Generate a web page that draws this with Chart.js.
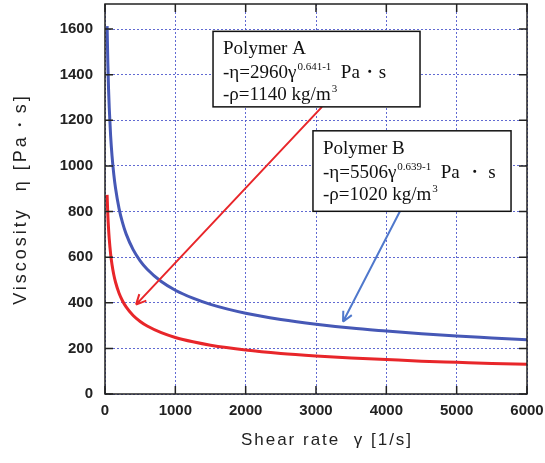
<!DOCTYPE html>
<html>
<head>
<meta charset="utf-8">
<script src="https://cdn.jsdelivr.net/npm/chart.js@4.4.1/dist/chart.umd.min.js"></script>
<style>
html,body{margin:0;padding:0;background:#fff;}
#wrap{width:545px;height:463px;position:relative;}
</style>
</head>
<body>
<div id="wrap"><canvas id="c" width="545" height="463"></canvas></div>
<script>
// ---- data ----
const gamma = [30,40,50,60,80,100,125,150,200,250,300,400,500,600,800,1000,1250,1500,2000,2500,3000,3500,4000,4500,5000,5500,6000];
const etaB  = [1613,1454,1341,1256,1132,1044,963,902,813,750,702,633,584,547,493,455,420,393,354,327,306,289,276,264,254,246,238];
const etaA  = [873,787,727,681,614,567,523,490,442,408,382,344,318,298,269,248,229,214,193,178,167,158,151,144,139,134,130];
const xTicks = [0,1000,2000,3000,4000,5000,6000];
const yTicks = [0,200,400,600,800,1000,1200,1400,1600];
const xTitle = 'Shear rate  γ [1/s]';
const yTitle = 'Viscosity  η [Pa・s]';
const noteA = ['Polymer A', ['-η=2960γ', '0.641-1', '  Pa・s'], ['-ρ=1140 kg/m', '3', '']];
const noteB = ['Polymer B', ['-η=5506γ', '0.639-1', '  Pa ・ s'], ['-ρ=1020 kg/m', '3', '']];

// ---- annotation layout (data coordinates) ----
const boxA = {x0:1536, y0:1590, x1:4479, y1:1259};
const boxB = {x0:2957, y0:1154, x1:5773, y1:801};
const arrowA = {x0:3085, y0:1259, x1:441, y1:392, color:'#e8262a'};
const arrowB = {x0:4194, y0:801, x1:3384, y1:317, color:'#4f78cc'};

const frame = {
  id:'frame',
  afterDatasetsDraw(chart){
    const {ctx, chartArea:a, scales:{x,y}} = chart;
    ctx.save();
    ctx.strokeStyle = '#222';
    ctx.lineWidth = 1.5;
    ctx.strokeRect(a.left, a.top, a.right-a.left, a.bottom-a.top);
    ctx.beginPath();
    const L = 8;
    xTicks.forEach(v=>{
      const px = x.getPixelForValue(v);
      ctx.moveTo(px, a.bottom); ctx.lineTo(px, a.bottom-L);
      ctx.moveTo(px, a.top); ctx.lineTo(px, a.top+L);
    });
    yTicks.forEach(v=>{
      const py = y.getPixelForValue(v);
      ctx.moveTo(a.left, py); ctx.lineTo(a.left+L, py);
      ctx.moveTo(a.right, py); ctx.lineTo(a.right-L, py);
    });
    ctx.stroke();
    ctx.restore();
  }
};

function drawArrow(ctx, x, y, ar){
  const sx = x.getPixelForValue(ar.x0), sy = y.getPixelForValue(ar.y0);
  const ex = x.getPixelForValue(ar.x1), ey = y.getPixelForValue(ar.y1);
  ctx.save();
  ctx.strokeStyle = ar.color;
  ctx.lineWidth = 2;
  ctx.beginPath();
  ctx.moveTo(sx, sy); ctx.lineTo(ex, ey);
  const ang = Math.atan2(ey-sy, ex-sx);
  const h = 11, w = 0.45;
  ctx.moveTo(ex, ey); ctx.lineTo(ex - h*Math.cos(ang-w), ey - h*Math.sin(ang-w));
  ctx.moveTo(ex, ey); ctx.lineTo(ex - h*Math.cos(ang+w), ey - h*Math.sin(ang+w));
  ctx.stroke();
  ctx.restore();
}

function drawBox(ctx, x, y, b, note){
  const l = x.getPixelForValue(b.x0), t = y.getPixelForValue(b.y0);
  const r = x.getPixelForValue(b.x1), bt = y.getPixelForValue(b.y1);
  ctx.save();
  ctx.fillStyle = '#fff';
  ctx.fillRect(l, t, r-l, bt-t);
  ctx.strokeStyle = '#111';
  ctx.lineWidth = 1.5;
  ctx.strokeRect(l, t, r-l, bt-t);
  ctx.fillStyle = '#111';
  ctx.textBaseline = 'alphabetic';
  const main = '19px "Liberation Serif", "Times New Roman", serif';
  const sup = '11px "Liberation Serif", "Times New Roman", serif';
  const tx = l + 10;
  ctx.font = main;
  ctx.fillText(note[0], tx, t + 23);
  [note[1], note[2]].forEach((parts, i)=>{
    const by = t + 47 + i*22;
    let cx = tx;
    ctx.font = main; ctx.fillText(parts[0], cx, by); cx += ctx.measureText(parts[0]).width + 1;
    ctx.font = sup; ctx.fillText(parts[1], cx, by - 8); cx += ctx.measureText(parts[1]).width;
    ctx.font = main; ctx.fillText(parts[2], cx, by);
  });
  ctx.restore();
}

const anno = {
  id:'anno',
  afterDraw(chart){
    const {ctx, scales:{x,y}} = chart;
    drawArrow(ctx, x, y, arrowA);
    drawArrow(ctx, x, y, arrowB);
    drawBox(ctx, x, y, boxA, noteA);
    drawBox(ctx, x, y, boxB, noteB);
  }
};

const titles = {
  id:'titles',
  afterDraw(chart){
    const {ctx, chartArea:a} = chart;
    ctx.save();
    ctx.fillStyle = '#222';
    ctx.textAlign = 'center';
    ctx.textBaseline = 'middle';
    ctx.font = '17px "Liberation Sans", Arial, sans-serif';
    ctx.letterSpacing = '2px';
    ctx.fillText(xTitle, (a.left + a.right)/2 + 11, chart.height - 23);
    ctx.translate(21, (a.top + a.bottom)/2);
    ctx.rotate(-Math.PI/2);
    ctx.font = '18px "Liberation Sans", Arial, sans-serif';
    ctx.letterSpacing = '3px';
    ctx.fillText(yTitle, 0, 0);
    ctx.restore();
  }
};

const gridStyle = {
  color:'rgba(80,90,205,0.9)',
  lineWidth:1,
  drawTicks:false
};
const tickFont = {family:'"Liberation Sans", Arial, sans-serif', size:15, weight:'bold'};

new Chart(document.getElementById('c'), {
  type:'line',
  data:{
    datasets:[
      {label:'Polymer B', data:gamma.map((g,i)=>({x:g, y:etaB[i]})), borderColor:'#4658b6', borderWidth:3, pointRadius:0, cubicInterpolationMode:'monotone', fill:false},
      {label:'Polymer A', data:gamma.map((g,i)=>({x:g, y:etaA[i]})), borderColor:'#e8262a', borderWidth:3, pointRadius:0, cubicInterpolationMode:'monotone', fill:false}
    ]
  },
  options:{
    responsive:false,
    animation:false,
    layout:{padding:{left:0, right:18, top:4, bottom:0}},
    plugins:{legend:{display:false}, tooltip:{enabled:false}},
    scales:{
      x:{
        type:'linear', min:0, max:6000,
        afterBuildTicks(s){ s.ticks = xTicks.map(v=>({value:v})); },
        afterFit(s){ s.height = 69; s.paddingLeft = 0; s.paddingRight = 0; },
        ticks:{padding:8, color:'#222', font:tickFont, maxRotation:0, callback:v=>String(v)},
        grid:{...gridStyle},
        border:{display:false, dash:[2,2]},
        title:{display:false}
      },
      y:{
        type:'linear', min:0, max:1710,
        afterBuildTicks(s){ s.ticks = yTicks.map(v=>({value:v})); },
        afterFit(s){ s.width = 105; s.paddingTop = 0; s.paddingBottom = 0; },
        ticks:{padding:12, color:'#222', font:tickFont, callback:v=>String(v)},
        grid:{...gridStyle},
        border:{display:false, dash:[2,2]},
        title:{display:false}
      }
    }
  },
  plugins:[frame, anno, titles]
});
</script>
</body>
</html>
